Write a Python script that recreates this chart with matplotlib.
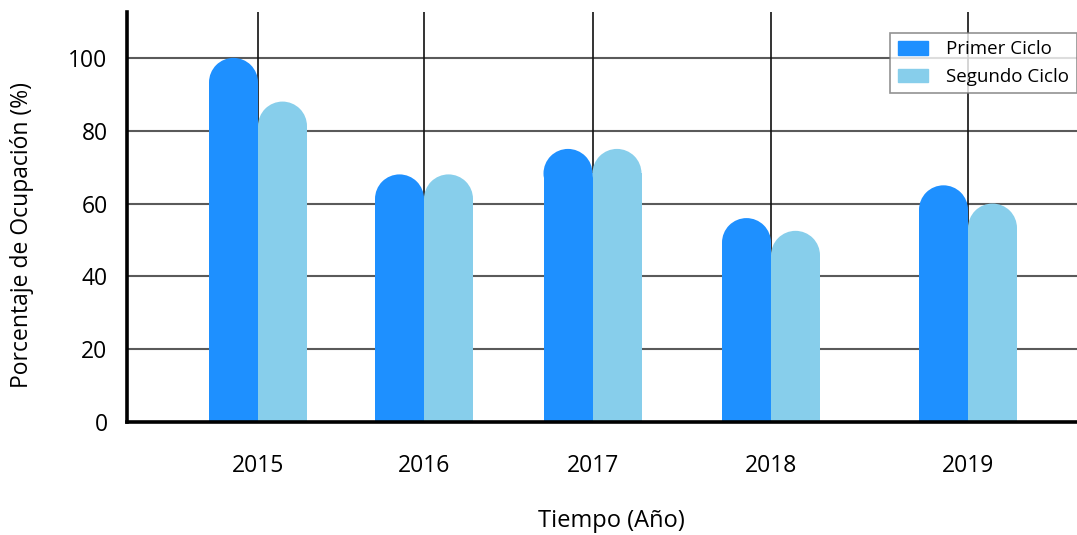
import matplotlib
matplotlib.use("Agg")
import matplotlib.pyplot as plt
from matplotlib.patches import Ellipse, Patch

# data
anios = ["2015", "2016", "2017", "2018", "2019"]
primer_ciclo = [100, 68, 75, 56, 65]
segundo_ciclo = [88, 68, 75, 52.5, 60]
series_nombres = ["Primer Ciclo", "Segundo Ciclo"]
colores = ["#1E90FF", "#87CEEB"]

# group centres (layout, axis units), uneven like the original
centros = [1.31, 2.97, 4.655, 6.44, 8.41]
ancho = 0.49

plt.rcParams["font.family"] = ["Open Sans", "DejaVu Sans"]

fig = plt.figure(figsize=(10.77, 5.35), dpi=100)
ax = fig.add_axes([127 / 1077, 1 - 422 / 535, 1 - 127 / 1077, (422 - 12) / 535])
ax.set_xlim(0, 9.5)
ax.set_ylim(0, 112.6)

# grid
for y in [20, 40, 60, 80, 100]:
    ax.axhline(y, color="#5a5a5a", lw=1.5, zorder=0)
for c in centros:
    ax.axvline(c, color="#111111", lw=1.2, zorder=0)

# px per unit to make round caps
fig.canvas.draw()
p0 = ax.transData.transform((0, 0))
p1 = ax.transData.transform((1, 1))
px_x = p1[0] - p0[0]
px_y = p1[1] - p0[1]
r_y = (ancho * px_x / 2) / px_y

for k, vals in enumerate([primer_ciclo, segundo_ciclo]):
    for c, v in zip(centros, vals):
        xc = c - ancho / 2 + k * ancho
        ax.bar(xc, v - r_y, width=ancho, color=colores[k], zorder=2, linewidth=0)
        ax.add_patch(Ellipse((xc, v - r_y), ancho, 2 * r_y, color=colores[k], zorder=2, lw=0))

ax.set_xticks(centros)
ax.set_xticklabels(anios, fontsize=16.5)
ax.set_yticks([0, 20, 40, 60, 80, 100])
ax.set_yticklabels(["0", "20", "40", "60", "80", "100"], fontsize=16.5)
ax.tick_params(axis="both", length=0)
ax.tick_params(axis="x", pad=23)
ax.tick_params(axis="y", pad=14)

for s in ["top", "right"]:
    ax.spines[s].set_visible(False)
ax.spines["left"].set_linewidth(2.6)
ax.spines["bottom"].set_linewidth(2.6)
ax.spines["left"].set_zorder(3)
ax.spines["bottom"].set_zorder(3)

fig.text(611 / 1077, 1 - 521 / 535, "Tiempo (Año)", fontsize=17, ha="center", va="center")
fig.text(22 / 1077, 1 - 235 / 535, "Porcentaje de Ocupación (%)", fontsize=16.5,
         rotation=90, ha="center", va="center")

handles = [Patch(color=colores[0], label=series_nombres[0]),
           Patch(color=colores[1], label=series_nombres[1])]
leg = fig.legend(handles=handles, loc="upper right", bbox_to_anchor=(1.0, 1 - 33 / 535),
                 fontsize=13.5, frameon=True, fancybox=False, borderaxespad=0,
                 handlelength=1.6, handleheight=0.7, handletextpad=1.0,
                 borderpad=0.4, labelspacing=0.5)
leg.get_frame().set_edgecolor("#777777")
leg.get_frame().set_linewidth(1.2)

fig.savefig("out.png", dpi=100)
